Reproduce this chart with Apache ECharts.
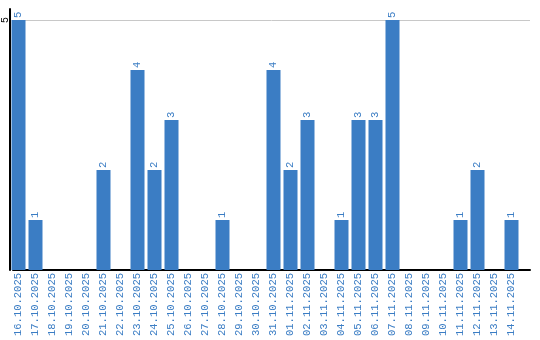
<!DOCTYPE html>
<html><head><meta charset="utf-8">
<script src="https://cdn.jsdelivr.net/npm/echarts@6/dist/echarts.min.js"></script>
<style>html,body{margin:0;padding:0;background:#fff}#c{width:540px;height:340px}</style>
</head><body><div id="c"></div>
<script>
const categories = ["16.10.2025","17.10.2025","18.10.2025","19.10.2025","20.10.2025","21.10.2025","22.10.2025","23.10.2025","24.10.2025","25.10.2025","26.10.2025","27.10.2025","28.10.2025","29.10.2025","30.10.2025","31.10.2025","01.11.2025","02.11.2025","03.11.2025","04.11.2025","05.11.2025","06.11.2025","07.11.2025","08.11.2025","09.11.2025","10.11.2025","11.11.2025","12.11.2025","13.11.2025","14.11.2025"];
const values = [5,1,0,0,0,2,0,4,2,3,0,0,1,0,0,4,2,3,0,1,3,3,5,0,0,0,1,2,0,1];
const yTicks = [5];
const BLUE = '#3b7dc4';
const FONT = 'Liberation Mono';
const chart = echarts.init(document.getElementById('c'));
chart.setOption({
  animation:false,
  grid:[
    {left:10, top:9, width:510, height:261},
    {left:10, top:20, width:520, height:250}
  ],
  xAxis:[
    {type:'category', gridIndex:0, data:categories,
     axisLine:{show:false}, axisTick:{show:false},
     axisLabel:{interval:0, rotate:90, color:BLUE, fontFamily:FONT, fontSize:10.5, margin:3}},
    {type:'category', gridIndex:1, data:categories,
     axisLine:{show:true, lineStyle:{color:'#000', width:2}}, axisTick:{show:false}, axisLabel:{show:false}}
  ],
  yAxis:[
    {type:'value', gridIndex:0, min:0, max:5.22, interval:5,
     axisLine:{show:true, lineStyle:{color:'#000', width:2}}, axisTick:{show:false},
     splitLine:{show:false}, axisLabel:{show:false}},
    {type:'value', gridIndex:1, min:0, max:5, interval:5,
     axisLine:{show:false}, axisTick:{show:false},
     splitLine:{show:true, lineStyle:{color:'#c8c8c8', width:1}},
     axisLabel:{rotate:90, align:'center', verticalAlign:'bottom', color:'#000', fontFamily:FONT, fontSize:10, margin:3,
       formatter:v=> yTicks.includes(v) ? String(v) : ''}}
  ],
  series:[{
    type:'bar', xAxisIndex:0, yAxisIndex:0, data:values, barWidth:14, z:3,
    itemStyle:{color:BLUE},
    label:{show:true, position:'top', rotate:90, align:'left', verticalAlign:'middle', distance:2,
      color:BLUE, fontFamily:FONT, fontSize:10.5,
      formatter:p=> p.value ? String(p.value) : ''}
  }]
});
</script></body></html>
